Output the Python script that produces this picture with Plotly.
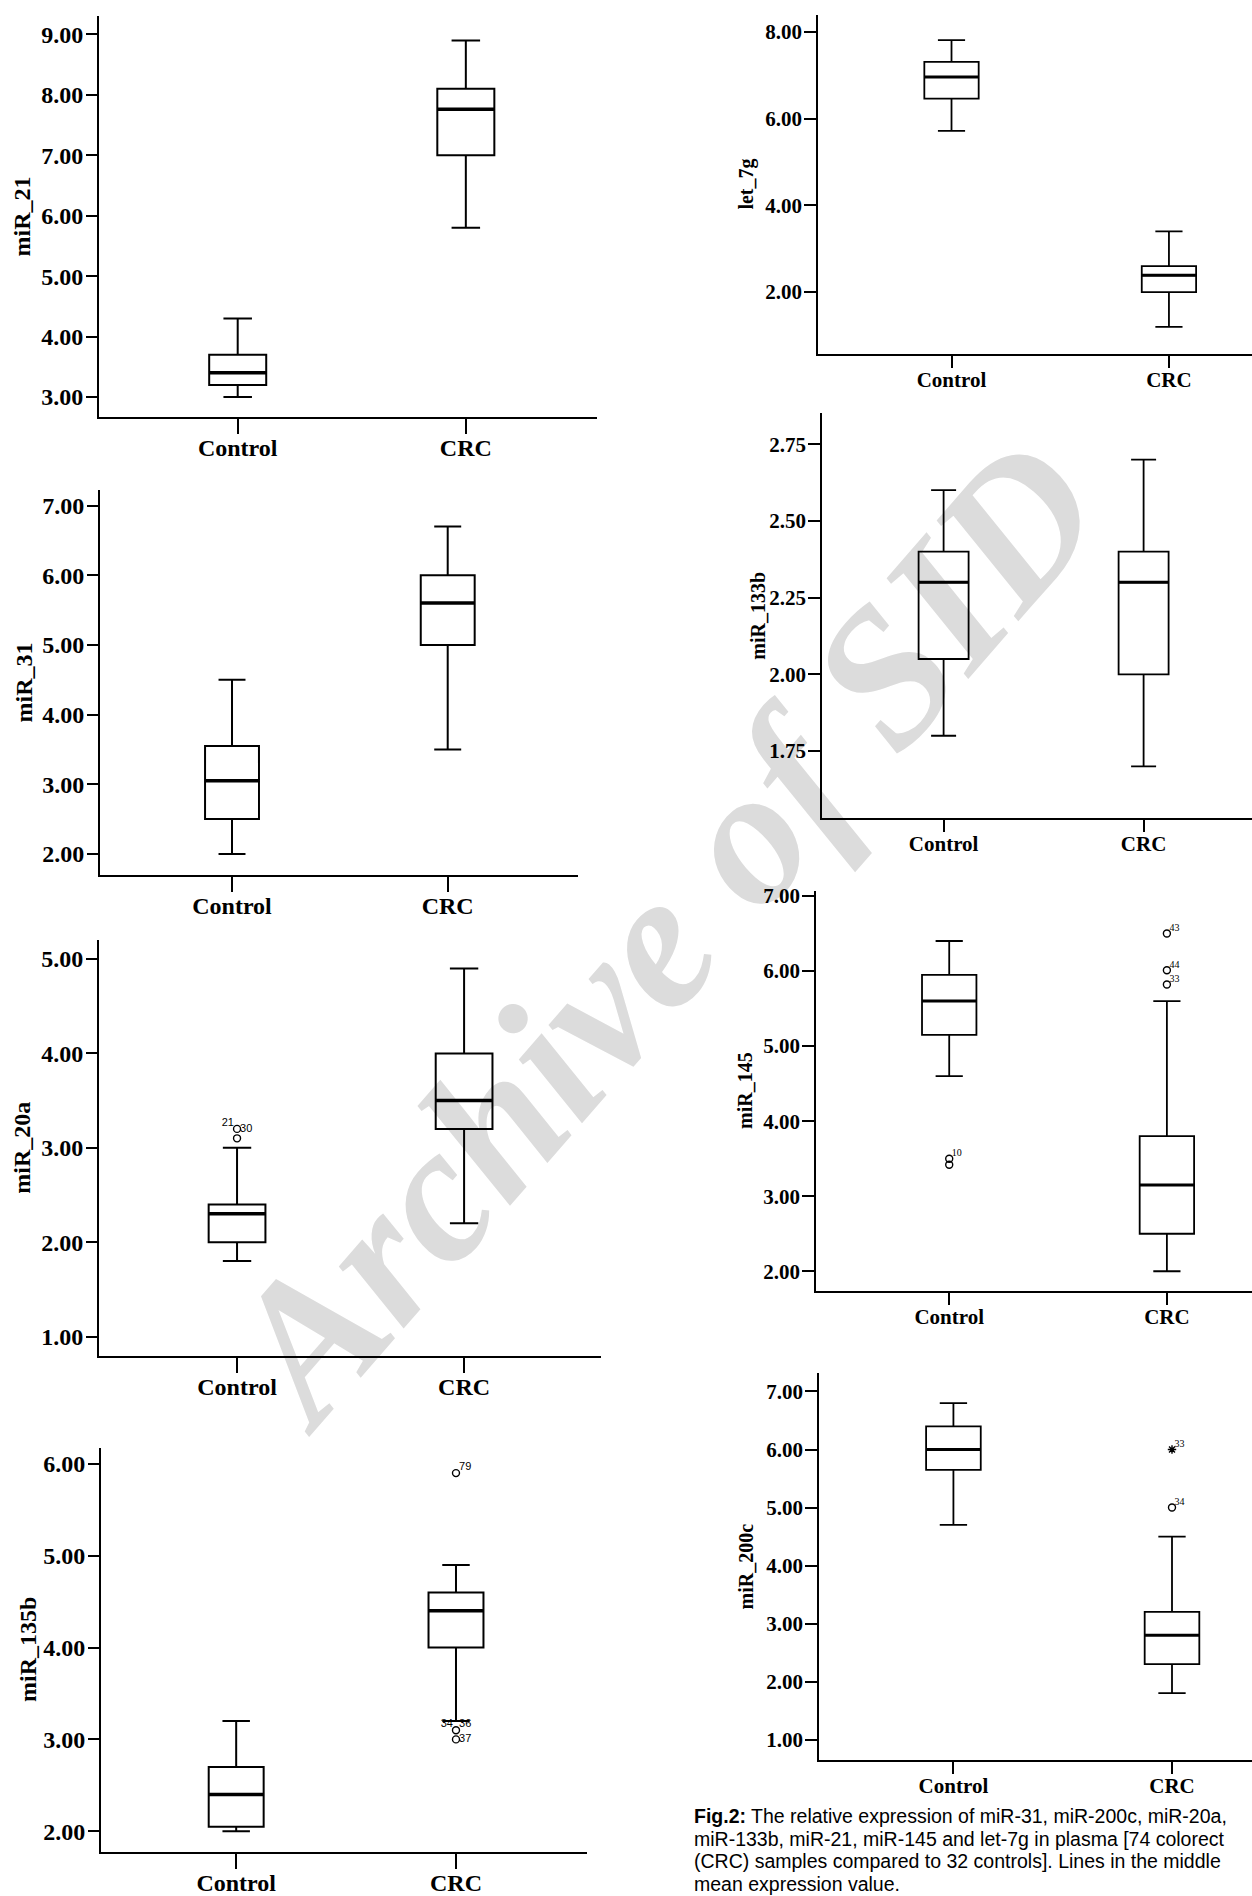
import plotly.graph_objects as go

W, H = 1252, 1896

groups = ["Control", "CRC"]
panels = ["miR_21", "miR_31", "miR_20a", "miR_135b", "let_7g", "miR_133b", "miR_145", "miR_200c"]

# box statistics, one value per panel (same order as `panels`)
control_low    = [3.00, 2.00, 1.80, 2.00, 5.72, 1.80, 4.60, 4.70]
control_q1     = [3.20, 2.50, 2.00, 2.05, 6.46, 2.05, 5.15, 5.65]
control_median = [3.40, 3.05, 2.30, 2.40, 6.96, 2.30, 5.60, 6.00]
control_q3     = [3.70, 3.55, 2.40, 2.70, 7.31, 2.40, 5.95, 6.40]
control_high   = [4.30, 4.50, 3.00, 3.20, 7.81, 2.60, 6.40, 6.80]

crc_low        = [5.80, 3.50, 2.20, 3.20, 1.20, 1.70, 2.00, 1.80]
crc_q1         = [7.00, 5.00, 3.20, 4.00, 2.00, 2.00, 2.50, 2.30]
crc_median     = [7.76, 5.60, 3.50, 4.40, 2.39, 2.30, 3.15, 2.80]
crc_q3         = [8.10, 6.00, 4.00, 4.60, 2.60, 2.40, 3.80, 3.20]
crc_high       = [8.90, 6.70, 4.90, 4.90, 3.40, 2.70, 5.60, 4.50]

# outlying cases
outlier_panel = ["miR_20a", "miR_20a", "miR_135b", "miR_135b", "miR_135b",
                 "miR_145", "miR_145", "miR_145", "miR_145", "miR_145",
                 "miR_200c", "miR_200c"]
outlier_group = ["Control", "Control", "CRC", "CRC", "CRC",
                 "Control", "Control", "CRC", "CRC", "CRC",
                 "CRC", "CRC"]
outlier_value = [3.20, 3.10, 5.90, 3.10, 3.00,
                 3.50, 3.42, 6.50, 6.01, 5.82,
                 6.00, 5.00]
outlier_extreme = [False, False, False, False, False,
                   False, False, False, False, False,
                   True, False]

# case-number labels next to outliers
case_label       = ["21", "30", "79", "34", "36", "37", "10", "43", "44", "33", "33", "34"]
case_label_panel = ["miR_20a", "miR_20a", "miR_135b", "miR_135b", "miR_135b", "miR_135b",
                    "miR_145", "miR_145", "miR_145", "miR_145", "miR_200c", "miR_200c"]
case_label_group = ["Control", "Control", "CRC", "CRC", "CRC", "CRC",
                    "Control", "CRC", "CRC", "CRC", "CRC", "CRC"]
case_label_value = [3.20, 3.20, 5.90, 3.10, 3.10, 3.00, 3.50, 6.50, 6.01, 5.82, 6.00, 5.00]
case_label_pos   = ["top left", "middle right", "top right", "top left", "top right", "middle right",
                    "top right", "top right", "top right", "top right", "top right", "top right"]

caption_lines = [
    "<b>Fig.2:</b> The relative expression of miR-31, miR-200c, miR-20a,",
    "miR-133b, miR-21, miR-145 and let-7g in plasma [74 colorect",
    "(CRC) samples compared to 32 controls]. Lines in the middle",
    "mean expression value.",
]
watermark_text = "<b><i>Archive of SID</i></b>"

# ---------------- layout geometry (pixels) ----------------
# left px, right px, top px, bottom px, y-range, x-range, tick0, dtick, column
geom = {
    "miR_21":   (99, 597, 10, 412.5, [2.67, 9.305], [-0.608, 1.575], 3, 1, "L"),
    "miR_31":   (100, 578, 486, 872, [1.70, 7.22], [-0.612, 1.604], 2, 1, "L"),
    "miR_20a":  (99, 601, 937, 1355, [0.794, 5.206], [-0.608, 1.603], 1, 1, "L"),
    "miR_135b": (101, 587, 1447, 1853, [1.772, 6.177], [-0.615, 1.596], 2, 1, "L"),
    "let_7g":   (818, 1252, 9, 349.5, [0.569, 8.39], [-0.614, 1.382], 2, 2, "R"),
    "miR_133b": (822, 1252, 409, 815, [1.532, 2.85], [-0.608, 1.542], 1.75, 0.25, "R"),
    "miR_145":  (816, 1252, 888, 1290, [1.734, 7.07], [-0.612, 1.391], 2, 1, "R"),
    "miR_200c": (819, 1252, 1372, 1760.5, [0.648, 7.32], [-0.615, 1.366], 1, 1, "R"),
}
title_x = {"miR_21": 22, "miR_31": 24, "miR_20a": 22, "miR_135b": 28,
           "let_7g": 747, "miR_133b": 758, "miR_145": 745, "miR_200c": 746}

SERIF = "Liberation Serif"
BOX_W = 0.25
NB = "\u00a0"

fig = go.Figure()
layout = dict(
    width=W, height=H, autosize=False,
    margin=dict(l=0, r=0, t=0, b=0),
    paper_bgcolor="white", plot_bgcolor="rgba(0,0,0,0)",
    showlegend=False,
    annotations=[], shapes=[],
)

for k, name in enumerate(panels):
    l, r, t, b, yr, xr, t0, dt, col = geom[name]
    n = "" if k == 0 else str(k + 1)
    xa, ya = "x" + n, "y" + n
    big = col == "L"
    fs_tick = 24 if big else 21
    fs_cat = 24 if big else 21
    fs_title = 24 if big else 20
    lw = 2 if big else 1.8
    tickfont = dict(family=SERIF, size=fs_tick, color="black", weight="bold")
    catfont = dict(family=SERIF, size=fs_cat, color="black", weight="bold")

    layout["xaxis" + n] = dict(
        domain=[l / W, r / W], anchor=ya, range=xr,
        tickmode="array", tickvals=[0, 1], ticktext=groups,
        ticks="outside", ticklen=15 if big else 12, tickwidth=lw, tickcolor="black",
        ticklabelstandoff=-7 if big else -6,
        showline=True, linecolor="black", linewidth=lw,
        showgrid=False, zeroline=False, tickfont=catfont, fixedrange=True,
    )
    layout["yaxis" + n] = dict(
        domain=[1 - b / H, 1 - t / H], anchor=xa, range=yr,
        tickmode="linear", tick0=t0, dtick=dt, tickformat=".2f",
        ticks="outside", ticklen=11 if big else 12, tickwidth=lw, tickcolor="black",
        ticklabelstandoff=-2,
        showline=True, linecolor="black", linewidth=lw,
        showgrid=False, zeroline=False, tickfont=tickfont, fixedrange=True,
    )
    layout["annotations"].append(dict(
        xref="paper", yref="paper", x=title_x[name] / W, y=1 - (t + b) / 2 / H,
        text=name, textangle=-90, showarrow=False, xanchor="center", yanchor="middle",
        font=dict(family=SERIF, size=fs_title, color="black", weight="bold"),
    ))

    lows = [control_low[k], crc_low[k]]
    q1s = [control_q1[k], crc_q1[k]]
    meds = [control_median[k], crc_median[k]]
    q3s = [control_q3[k], crc_q3[k]]
    highs = [control_high[k], crc_high[k]]

    fig.add_trace(go.Box(
        x=[0, 1], q1=q1s, median=meds, q3=q3s, lowerfence=lows, upperfence=highs,
        width=BOX_W, whiskerwidth=0.5, boxpoints=False,
        fillcolor="rgba(0,0,0,0)", line=dict(color="black", width=lw),
        xaxis=xa, yaxis=ya, hoverinfo="skip",
    ))
    # thicker median line
    mx, my = [], []
    for i, m in enumerate(meds):
        mx += [i - BOX_W / 2, i + BOX_W / 2, None]
        my += [m, m, None]
    fig.add_trace(go.Scatter(x=mx, y=my, mode="lines",
                             line=dict(color="black", width=3.5 if big else 3),
                             xaxis=xa, yaxis=ya, hoverinfo="skip"))

    # outliers
    for ext in (False, True):
        ox = [groups.index(g) for p, g, e in zip(outlier_panel, outlier_group, outlier_extreme)
              if p == name and e == ext]
        oy = [v for p, v, e in zip(outlier_panel, outlier_value, outlier_extreme)
              if p == name and e == ext]
        if ox:
            fig.add_trace(go.Scatter(
                x=ox, y=oy, mode="markers",
                marker=dict(symbol="asterisk-open" if ext else "circle-open",
                            size=7, color="black", line=dict(color="black", width=1.4)),
                xaxis=xa, yaxis=ya, hoverinfo="skip"))
    lx = [groups.index(g) for p, g in zip(case_label_panel, case_label_group) if p == name]
    ly = [v for p, v in zip(case_label_panel, case_label_value) if p == name]
    lp = [s for p, s in zip(case_label_panel, case_label_pos) if p == name]
    lt = [(s + NB) if "left" in pos else (NB + s)
          for p, s, pos in zip(case_label_panel, case_label, case_label_pos) if p == name]
    if lx:
        fig.add_trace(go.Scatter(
            x=lx, y=ly, mode="text", text=lt, textposition=lp,
            textfont=dict(family="Liberation Sans" if big else SERIF,
                          size=11 if big else 10, color="black"),
            xaxis=xa, yaxis=ya, hoverinfo="skip"))

# caption
cap_y = [1817, 1839.5, 1862, 1884.5]
for line, yy in zip(caption_lines, cap_y):
    layout["annotations"].append(dict(
        xref="paper", yref="paper", x=693 / W, y=1 - yy / H,
        xanchor="left", yanchor="middle", showarrow=False, align="left", borderpad=0,
        text=line, font=dict(family="Liberation Sans", size=19.5, color="black"),
    ))

# watermark, drawn under the plotted lines
cx, cy = 648, 912
layout["shapes"].append(dict(
    type="rect", xref="paper", yref="paper", layer="below",
    x0=(cx - 1) / W, x1=(cx + 1) / W, y0=1 - (cy + 1) / H, y1=1 - (cy - 1) / H,
    line=dict(width=0, color="rgba(0,0,0,0)"), fillcolor="rgba(0,0,0,0)",
    label=dict(text=watermark_text, textangle=-49, textposition="middle center",
               font=dict(family=SERIF, size=195, color="#dcdcdc")),
))

fig.update_layout(**layout)
fig.write_html(
    "out.html",
    config={"displayModeBar": False},
    post_script="document.body.style.margin='0px';document.body.style.overflow='hidden';",
)
